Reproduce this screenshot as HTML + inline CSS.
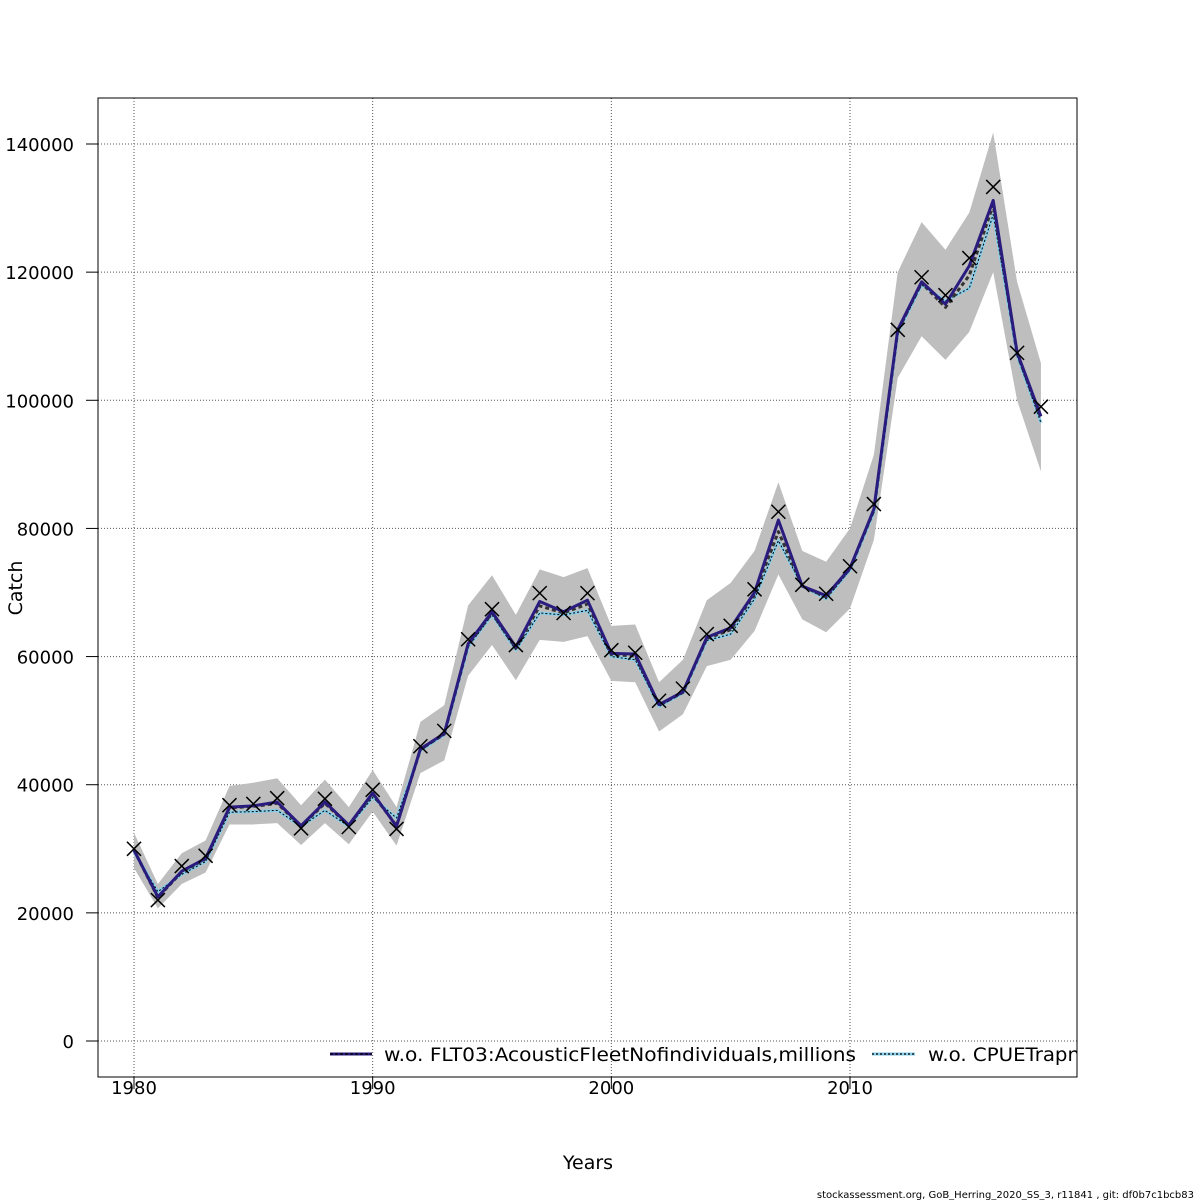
<!DOCTYPE html>
<html><head><meta charset="utf-8"><style>
html,body{margin:0;padding:0;background:#fff;}
svg{display:block;font-family:"DejaVu Sans","Liberation Sans",sans-serif;}
</style></head><body>
<svg id="chart" width="1200" height="1200" viewBox="0 0 1200 1200" xmlns="http://www.w3.org/2000/svg">
<defs><clipPath id="plotclip"><rect x="98" y="98" width="979" height="979"/></clipPath></defs>
<rect x="0" y="0" width="1200" height="1200" fill="#fff"/>
<g id="grid"></g>
<g id="marks" clip-path="url(#plotclip)"></g>
<rect x="98" y="98" width="979" height="979" fill="none" stroke="#000" stroke-width="1"/>
<g id="axes"></g>
<text x="588" y="1169" font-size="19" text-anchor="middle">Years</text>
<text x="0" y="0" font-size="19" text-anchor="middle" transform="translate(22,588) rotate(-90)">Catch</text>
<text x="1194" y="1198" font-size="10" text-anchor="end">stockassessment.org, GoB_Herring_2020_SS_3, r11841 , git: df0b7c1bcb83</text>
<g clip-path="url(#plotclip)">
  <g>
    <line x1="330" y1="1054" x2="372" y2="1054" stroke="#2a1c7e" stroke-width="3"/>
    <line x1="330" y1="1054" x2="372" y2="1054" stroke="#000" stroke-width="1.2" stroke-dasharray="3,2"/>
    <text x="384" y="1061" font-size="19" textLength="472" lengthAdjust="spacingAndGlyphs">w.o. FLT03:AcousticFleetNofindividuals,millions</text>
  </g>
  <g>
    <line x1="872" y1="1054" x2="915" y2="1054" stroke="#87ceeb" stroke-width="3"/>
    <line x1="872" y1="1054" x2="915" y2="1054" stroke="#000" stroke-width="1.2" stroke-dasharray="2,2"/>
    <text x="928" y="1061" font-size="19" textLength="152" lengthAdjust="spacingAndGlyphs">w.o. CPUETrapn</text>
  </g>
</g>
</svg>
<script>
const years = [1980,1981,1982,1983,1984,1985,1986,1987,1988,1989,1990,1991,1992,1993,1994,1995,1996,1997,1998,1999,2000,2001,2002,2003,2004,2005,2006,2007,2008,2009,2010,2011,2012,2013,2014,2015,2016,2017,2018];
const observed = [30000,22000,27300,28900,36800,37000,37900,33200,37800,33400,39200,33100,46000,48400,62700,67400,61800,69900,66800,69900,61000,60600,53100,55000,63500,64800,70500,82600,71200,69800,74100,83800,111000,119200,116400,122200,133300,107400,99000];
const fitted = [29800,22500,26500,28500,36500,36700,37300,33600,37300,33700,38700,33500,45600,48000,62000,67000,61500,68600,67000,68800,60500,60400,52500,54500,63000,64500,70000,81300,71000,69500,73800,83000,111000,118500,115000,121000,131200,107500,97500];
const upperCI = [32500,24500,29300,31300,39800,40300,41000,36800,40800,36500,42300,36500,49800,52400,68000,72700,66500,73600,72400,73800,64800,65000,56000,59500,68800,71500,76500,87200,76500,74800,80000,91500,120000,127800,123500,129300,141800,118500,105800];
const lowerCI = [27000,20700,24500,26300,33800,33800,34000,30600,34000,30700,35800,30500,41800,43800,57000,61800,56300,62600,62300,63200,56200,56000,48300,51000,58500,59500,64000,72800,65800,63800,67500,78200,103500,110000,106300,110700,120000,100000,88900];
const woFLT03 = [29800,22400,26400,28400,36400,36600,37100,33500,37100,33600,38500,33600,45500,47900,61800,66800,61300,67900,66800,68200,60300,60100,52400,54400,62800,64200,69700,79500,71000,69300,73700,82800,110800,118300,114500,119500,130500,107300,97200];
const woCPUE = [29500,23300,26000,28000,35700,35800,36000,33500,36000,33500,38000,34800,45300,47800,61500,66500,61000,66800,66500,67200,60000,59500,52200,54300,62500,63500,69000,78100,71000,69000,73500,82500,110500,118000,115500,117500,129000,107000,96500];
const xTicks = [1980,1990,2000,2010];
const yTicks = [0,20000,40000,60000,80000,100000,120000,140000];

const NS = "http://www.w3.org/2000/svg";
function X(yr){ return 134 + (yr-1980)*(850-134)/30; }
function Y(v){ return 1041 - v*(1041-144)/140000; }
function mk(tag, attrs, parent){ const e=document.createElementNS(NS,tag); for(const k in attrs) e.setAttribute(k,attrs[k]); parent.appendChild(e); return e; }
const grid=document.getElementById('grid'), marks=document.getElementById('marks'), axes=document.getElementById('axes');

xTicks.forEach(t=>{
  const g=mk('line',{x1:X(t),y1:98,x2:X(t),y2:1077,stroke:'#555','stroke-width':1,'stroke-dasharray':'1,2'},grid);
  
  
  const tk=mk('line',{x1:X(t),y1:1077,x2:X(t),y2:1089,stroke:'#000'},axes);
  
  
  const tx=mk('text',{x:X(t),y:1094,'font-size':18,'text-anchor':'middle'},axes);
  tx.textContent=t;
  
  
});
yTicks.forEach(t=>{
  const g=mk('line',{x1:98,y1:Y(t),x2:1077,y2:Y(t),stroke:'#555','stroke-width':1,'stroke-dasharray':'1,2'},grid);
  
  
  const tk=mk('line',{x1:86,y1:Y(t),x2:98,y2:Y(t),stroke:'#000'},axes);
  
  
  const tx=mk('text',{x:74,y:Y(t)+7,'font-size':18,'text-anchor':'end'},axes);
  tx.textContent=t;
  
  
});

let band = years.map((y,i)=>X(y)+','+Y(upperCI[i])).join(' ') + ' ' + years.map((y,i)=>X(y)+','+Y(lowerCI[i])).reverse().join(' ');
const poly=mk('polygon',{points:band,fill:'#bebebe',stroke:'none'},marks);



function line(arr,color,w,dash,name){
  const p=mk('polyline',{points:years.map((y,i)=>X(y)+','+Y(arr[i])).join(' '),fill:'none',stroke:color,'stroke-width':w,'stroke-linejoin':'round'},marks);
  if(dash) p.setAttribute('stroke-dasharray',dash);
  
  
}
line(woCPUE,'#87ceeb',3,null,'line-wo-cpuetrapn');
line(woCPUE,'#000',1,'2,2','line-wo-cpuetrapn-dots');
line(woFLT03,'#333',3,'4,3','line-wo-flt03');
line(fitted,'#2a1c7e',3,null,'line-fitted');

observed.forEach((v,i)=>{
  const cx=X(years[i]), cy=Y(v), s=7;
  const g=mk('path',{d:`M${cx-s},${cy-s}L${cx+s},${cy+s}M${cx-s},${cy+s}L${cx+s},${cy-s}`,stroke:'#000','stroke-width':1.5,fill:'none'},marks);
  
  
});
</script>
</body></html>
